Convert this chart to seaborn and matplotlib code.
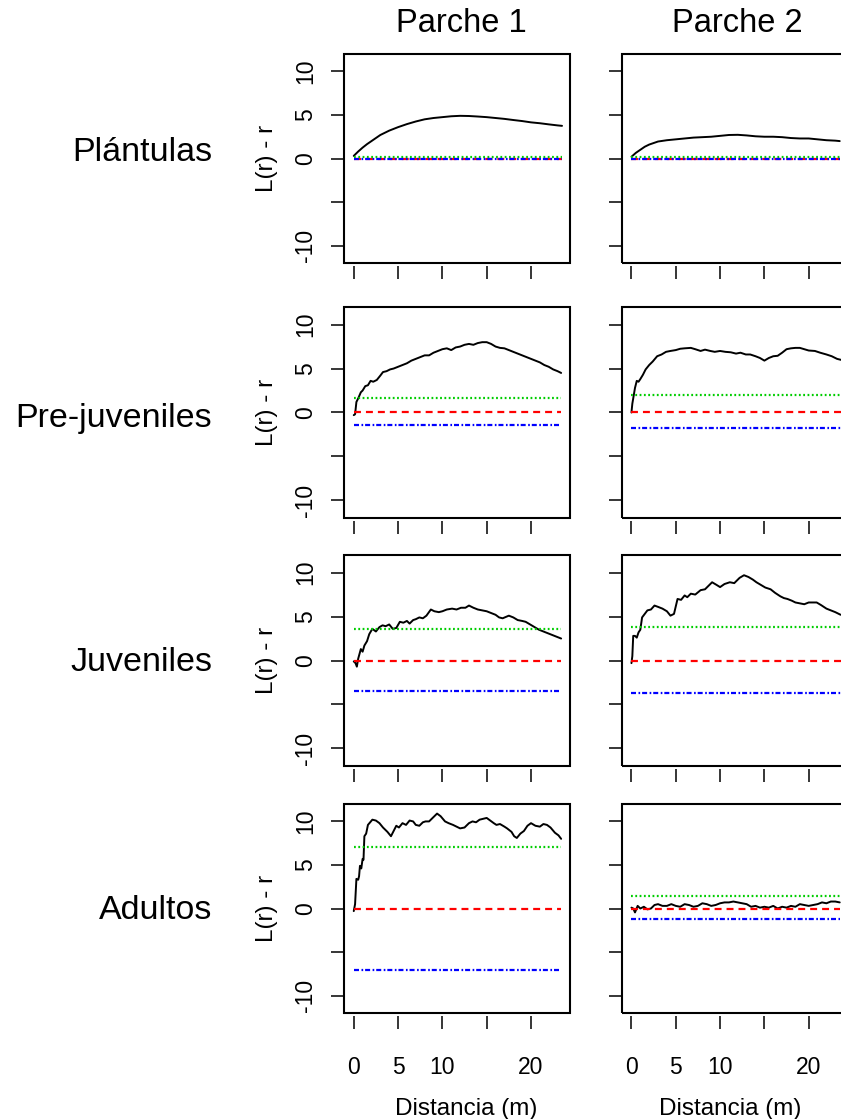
import matplotlib
matplotlib.use("Agg")
import matplotlib.pyplot as plt
from matplotlib.patches import Rectangle
import pandas as pd
import seaborn as sns

sns.set_style("ticks")
plt.rcParams["font.family"] = ["Liberation Sans", "DejaVu Sans"]
plt.rcParams["lines.scale_dashes"] = False
plt.rcParams["text.color"] = "black"
plt.rcParams["axes.labelcolor"] = "black"
plt.rcParams["xtick.color"] = "black"
plt.rcParams["ytick.color"] = "black"

# ---------------------------------------------------------------------------
# Data: L(r) - r curves (observed) and simulation envelopes per stage / patch
# ---------------------------------------------------------------------------
patches = ["Parche 1", "Parche 2"]
stages = ["Plántulas", "Pre-juveniles", "Juveniles", "Adultos"]

# Plántulas
r_plant_p1 = [0, 0.5, 1, 1.5, 2, 3, 4, 5, 6, 7, 8, 9, 10, 11, 12, 13, 14, 15,
              16, 17, 18, 19, 20, 21, 22, 23, 23.5]
L_plant_p1 = [0.3, 0.8, 1.25, 1.65, 2.0, 2.7, 3.2, 3.6, 3.95, 4.25, 4.5, 4.65,
              4.75, 4.85, 4.9, 4.88, 4.82, 4.75, 4.65, 4.55, 4.42, 4.3, 4.15,
              4.05, 3.92, 3.8, 3.75]
r_plant_p2 = [0, 0.5, 1, 1.5, 2, 3, 4, 5, 6, 7, 8, 9, 10, 11, 12, 13, 14, 15,
              16, 17, 18, 19, 20, 21, 22, 23, 23.5]
L_plant_p2 = [0.2, 0.65, 1.0, 1.35, 1.6, 1.95, 2.1, 2.2, 2.3, 2.4, 2.45, 2.5,
              2.6, 2.7, 2.72, 2.65, 2.55, 2.5, 2.5, 2.45, 2.35, 2.3, 2.3, 2.2,
              2.1, 2.05, 2.0]

# Pre-juveniles
r_prej_p1 = [0, 0.15, 0.3, 0.5, 0.8, 1.0, 1.3, 1.6, 1.9, 2.2, 2.6, 3.0, 3.3,
             3.7, 4.1, 4.5, 5.0, 5.5, 6.0, 6.5, 7.0, 7.5, 8.0, 8.5, 9.0, 9.5,
             10.0, 10.5, 11.0, 11.5, 12.0, 12.5, 13.0, 13.5, 14.0, 14.5, 15.0,
             15.5, 16.0, 16.5, 17.0, 17.5, 18.0, 18.5, 19.0, 19.5, 20.0, 20.5,
             21.0, 21.5, 22.0, 22.5, 23.0, 23.4]
L_prej_p1 = [-0.3, -0.2, 1.2, 1.6, 2.3, 2.5, 3.0, 3.1, 3.6, 3.5, 3.7, 4.2, 4.6,
             4.7, 4.9, 5.0, 5.2, 5.4, 5.6, 5.9, 6.1, 6.3, 6.5, 6.5, 6.8, 7.0,
             7.2, 7.3, 7.1, 7.4, 7.5, 7.7, 7.8, 7.7, 7.9, 8.0, 8.0, 7.8, 7.5,
             7.35, 7.3, 7.1, 6.9, 6.7, 6.5, 6.3, 6.1, 5.9, 5.7, 5.4, 5.2, 4.9,
             4.7, 4.5]
r_prej_p2 = [0, 0.1, 0.25, 0.4, 0.6, 0.8, 1.0, 1.3, 1.6, 2.0, 2.4, 2.9, 3.4,
             3.9, 4.4, 5.0, 5.5, 6.0, 6.7, 7.2, 7.8, 8.3, 8.9, 9.4, 10.0, 10.6,
             11.2, 11.8, 12.3, 12.9, 13.4, 14.0, 14.5, 15.0, 15.5, 16.0, 16.5,
             17.0, 17.5, 18.0, 18.5, 19.0, 19.5, 20.0, 20.7, 21.3, 22.0, 22.6,
             23.2, 23.8]
L_prej_p2 = [0.0, 1.0, 1.9, 2.8, 3.6, 3.5, 3.8, 4.3, 4.9, 5.4, 5.8, 6.4, 6.6,
             6.9, 7.0, 7.1, 7.25, 7.3, 7.35, 7.2, 7.0, 7.15, 7.0, 6.9, 7.0,
             6.9, 6.85, 6.7, 6.8, 6.6, 6.6, 6.4, 6.2, 5.9, 6.2, 6.4, 6.45, 6.8,
             7.2, 7.3, 7.35, 7.35, 7.2, 7.05, 7.0, 6.8, 6.6, 6.4, 6.1, 5.95]

# Juveniles
r_juv_p1 = [0, 0.2, 0.35, 0.5, 0.8, 1.0, 1.2, 1.5, 1.75, 2.1, 2.5, 2.9, 3.25,
            3.6, 4.0, 4.4, 4.8, 5.2, 5.6, 6.0, 6.3, 6.7, 7.0, 7.4, 7.8, 8.2,
            8.7, 9.1, 9.6, 10.0, 10.5, 11.1, 11.6, 12.1, 12.6, 13.0, 13.5,
            14.0, 14.5, 15.0, 15.5, 16.0, 16.4, 16.8, 17.5, 18.0, 18.5, 19.0,
            19.4, 19.9, 20.4, 20.9, 21.4, 21.9, 22.4, 22.9, 23.4]
L_juv_p1 = [-0.1, -0.3, -0.7, 0.2, 1.3, 1.0, 1.7, 2.2, 3.0, 3.6, 3.3, 3.8, 4.0,
            3.9, 4.1, 3.6, 3.7, 4.4, 4.3, 4.5, 4.2, 4.6, 4.7, 4.9, 4.8, 5.1,
            5.8, 5.6, 5.5, 5.6, 5.8, 5.9, 5.8, 6.0, 6.0, 6.25, 6.0, 5.8, 5.7,
            5.6, 5.4, 5.2, 4.9, 4.8, 5.1, 4.9, 4.6, 4.5, 4.4, 4.1, 3.8, 3.5,
            3.3, 3.1, 2.9, 2.7, 2.5]
r_juv_p2 = [0, 0.1, 0.2, 0.4, 0.6, 0.8, 1.0, 1.2, 1.5, 1.8, 2.2, 2.6, 3.0, 3.5,
            4.0, 4.4, 4.8, 5.2, 5.6, 6.0, 6.3, 6.7, 7.2, 7.8, 8.3, 8.7, 9.1,
            9.6, 10.0, 10.5, 11.1, 11.6, 12.2, 12.7, 13.2, 13.7, 14.1, 14.6,
            15.1, 15.7, 16.2, 16.8, 17.2, 17.6, 18.1, 18.5, 19.0, 19.5, 20.0,
            20.5, 20.9, 21.4, 22.0, 22.5, 23.0, 23.6]
L_juv_p2 = [-0.3, 0.5, 2.8, 2.8, 2.6, 3.2, 3.5, 4.9, 5.3, 5.7, 5.8, 6.25, 6.1,
            5.9, 5.6, 5.1, 5.3, 7.0, 6.9, 7.4, 7.2, 7.6, 7.5, 8.0, 8.1, 8.5,
            8.9, 8.6, 8.35, 8.7, 8.9, 8.8, 9.4, 9.7, 9.5, 9.2, 8.9, 8.6, 8.3,
            8.1, 7.7, 7.3, 7.1, 7.0, 6.8, 6.6, 6.5, 6.4, 6.6, 6.6, 6.6, 6.3,
            5.9, 5.7, 5.5, 5.2]

# Adultos
r_adu_p1 = [0, 0.15, 0.3, 0.5, 0.6, 0.7, 0.85, 1.0, 1.1, 1.2, 1.4, 1.6, 1.85,
            2.1, 2.5, 2.9, 3.3, 3.8, 4.2, 4.5, 4.8, 5.1, 5.5, 5.9, 6.3, 6.7,
            7.0, 7.4, 7.8, 8.1, 8.5, 8.9, 9.4, 9.8, 10.3, 10.7, 11.2, 11.6,
            12.0, 12.5, 13.0, 13.4, 13.8, 14.2, 14.6, 15.0, 15.4, 15.8, 16.1,
            16.5, 17.0, 17.3, 17.8, 18.1, 18.4, 18.8, 19.2, 19.6, 20.0, 20.5,
            21.0, 21.4, 21.8, 22.2, 22.7, 23.1, 23.4]
L_adu_p1 = [-0.3, 0.5, 3.4, 3.3, 3.7, 4.9, 4.6, 5.7, 5.6, 8.3, 8.6, 9.6, 9.9,
            10.2, 10.1, 9.8, 9.3, 8.8, 8.3, 8.9, 9.5, 9.3, 9.8, 9.6, 10.1,
            10.0, 9.6, 9.5, 9.9, 10.0, 10.0, 10.4, 10.9, 10.6, 10.0, 9.8, 9.6,
            9.4, 9.2, 9.3, 9.8, 10.0, 9.9, 10.2, 10.3, 10.4, 10.1, 9.8, 9.6,
            9.7, 9.4, 9.2, 8.8, 8.3, 8.1, 8.6, 8.9, 9.5, 9.8, 9.5, 9.4, 9.7,
            9.6, 9.3, 8.7, 8.4, 8.0]
r_adu_p2 = [0, 0.2, 0.4, 0.7, 1.0, 1.4, 1.8, 2.2, 2.6, 3.0, 3.5, 4.0, 4.5, 5.0,
            5.5, 6.0, 6.5, 7.0, 7.5, 8.0, 8.5, 9.0, 9.5, 10.0, 10.5, 11.0,
            11.5, 12.0, 12.5, 13.0, 13.5, 14.0, 14.5, 15.0, 15.5, 16.0, 16.5,
            17.0, 17.5, 18.0, 18.5, 19.0, 19.5, 20.0, 20.5, 21.0, 21.5, 22.0,
            22.5, 23.0, 23.5]
L_adu_p2 = [0.1, 0.0, -0.45, 0.3, 0.0, 0.2, -0.1, 0.0, 0.4, 0.5, 0.3, 0.3, 0.5,
            0.3, 0.2, 0.5, 0.4, 0.2, 0.3, 0.6, 0.5, 0.3, 0.4, 0.6, 0.7, 0.7,
            0.8, 0.7, 0.6, 0.5, 0.2, 0.3, 0.1, 0.2, 0.1, 0.3, 0.0, 0.2, 0.1,
            0.3, 0.2, 0.5, 0.4, 0.3, 0.4, 0.5, 0.7, 0.6, 0.8, 0.8, 0.7]

# Envelope values (rows: stages, columns: patches)
env_hi = [[0.12, 0.12], [1.6, 2.0], [3.6, 3.8], [7.1, 1.45]]
env_theo = [[0.0, 0.0], [0.0, 0.0], [0.0, 0.0], [0.0, 0.0]]
env_lo = [[-0.1, -0.1], [-1.4, -1.8], [-3.5, -3.7], [-7.1, -1.2]]

curves = [
    [(r_plant_p1, L_plant_p1), (r_plant_p2, L_plant_p2)],
    [(r_prej_p1, L_prej_p1), (r_prej_p2, L_prej_p2)],
    [(r_juv_p1, L_juv_p1), (r_juv_p2, L_juv_p2)],
    [(r_adu_p1, L_adu_p1), (r_adu_p2, L_adu_p2)],
]

y_ticks = [-10, -5, 0, 5, 10]
y_ticklabels = ["-10", "", "0", "5", "10"]
x_ticks = [0, 5, 10, 15, 20]
x_ticklabels = ["0", "5", "10", "", "20"]

# ---------------------------------------------------------------------------
# Layout (pixels)
# ---------------------------------------------------------------------------
W, H = 841, 1119
col_left = [344, 621.7]
box_w = 226
row_top = [54, 307, 555, 804]
row_h = [209, 211, 211, 209]
label_baseline = [161, 427, 671, 919]
title_x = [461, 737]
xlabel_x = [466.5, 730]

fig = plt.figure(figsize=(W / 100, H / 100), dpi=100)

line_styles = {
    "theo": dict(color="#FF0000", linestyle=(0, (5.0, 3.6))),
    "hi": dict(color="#00CD00", linestyle=(0, (1.3, 1.8))),
    "lo": dict(color="#0000FF", linestyle=(0, (3.6, 1.8, 1.2, 1.4))),
}

for i, stage in enumerate(stages):
    for j, patch in enumerate(patches):
        left = col_left[j] / W
        bottom = 1 - (row_top[i] + row_h[i]) / H
        ax = fig.add_axes([left, bottom, box_w / W, row_h[i] / H])
        r, L = curves[i][j]
        df = pd.DataFrame({"r": r, "L": L})
        sns.lineplot(data=df, x="r", y="L", ax=ax, color="black", lw=1.4,
                     estimator=None, sort=False)
        r_span = [r[0], r[-1]]
        for key, vals in (("theo", env_theo), ("hi", env_hi), ("lo", env_lo)):
            env_df = pd.DataFrame({"r": r_span, "v": [vals[i][j]] * 2})
            sns.lineplot(data=env_df, x="r", y="v", ax=ax, lw=1.6,
                         estimator=None, sort=False, **line_styles[key])

        ax.set_xlim(-1.1, 24.4)
        ax.set_ylim(-12, 12)

        for side in ("top", "right", "left", "bottom"):
            ax.spines[side].set_visible(False)
        ax.spines["bottom"].set_position(("outward", 2.4))
        ax.add_patch(Rectangle((0, 0), 1, 1, transform=ax.transAxes,
                               fill=False, lw=1.5, ec="black",
                               clip_on=False, zorder=5))

        ax.tick_params(axis="both", direction="out", length=9.3, width=1.1,
                       color="black", labelsize=16.5, labelcolor="black")
        ax.tick_params(axis="x", pad=19)
        ax.tick_params(axis="y", pad=10)

        ax.set_yticks(y_ticks)
        if j == 0:
            ax.set_yticklabels(y_ticklabels, rotation=90, va="center")
            ax.set_ylabel("L(r) - r", fontsize=17.5, va="center",
                          color="black")
            ax.yaxis.set_label_coords(-0.34, 0.5)
        else:
            ax.set_yticklabels([])
            ax.set_ylabel("")

        ax.set_xticks(x_ticks)
        if i == len(stages) - 1:
            ax.set_xticklabels(x_ticklabels)
            ax.set_xlabel("Distancia (m)", fontsize=17.5, va="baseline",
                          color="black")
            ax.xaxis.set_label_coords((xlabel_x[j] - col_left[j]) / box_w,
                                      -(1115 - (row_top[i] + row_h[i])) / row_h[i])
        else:
            ax.set_xticklabels([])
            ax.set_xlabel("")

    fig.text(212 / W, 1 - label_baseline[i] / H, stage, fontsize=24.5,
             ha="right", va="baseline", color="black")

for j, patch in enumerate(patches):
    fig.text(title_x[j] / W, 1 - 32.3 / H, patch, fontsize=23.5,
             ha="center", va="baseline", color="black")

fig.savefig("out.png", dpi=100)
